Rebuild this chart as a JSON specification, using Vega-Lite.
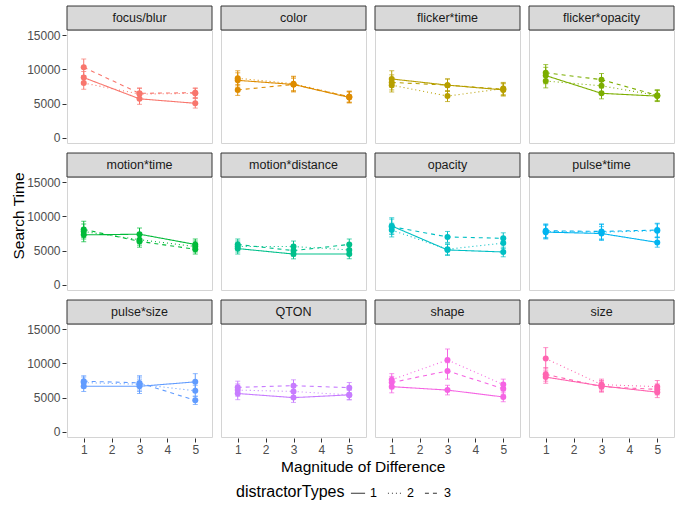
{
  "$schema": "https://vega.github.io/schema/vega-lite/v6.json",
  "padding": {"left": 11, "top": -5, "right": 0, "bottom": 4},
  "title": {"text": "Magnitude of Difference", "orient": "bottom", "anchor": "middle", "dx": 20, "fontSize": 15.5, "fontWeight": "normal", "color": "#000000", "offset": -40},
  "data": {"values": [
    {"panel":"focus/blur","mag":1,"type":"1","time":8800,"lo":7900,"hi":9700},
    {"panel":"focus/blur","mag":1,"type":"2","time":8000,"lo":7100,"hi":8900},
    {"panel":"focus/blur","mag":1,"type":"3","time":10300,"lo":9100,"hi":11500},
    {"panel":"focus/blur","mag":3,"type":"1","time":5700,"lo":4900,"hi":6500},
    {"panel":"focus/blur","mag":3,"type":"2","time":6400,"lo":5600,"hi":7200},
    {"panel":"focus/blur","mag":3,"type":"3","time":6500,"lo":5700,"hi":7300},
    {"panel":"focus/blur","mag":5,"type":"1","time":5050,"lo":4350,"hi":5750},
    {"panel":"focus/blur","mag":5,"type":"2","time":6500,"lo":5800,"hi":7200},
    {"panel":"focus/blur","mag":5,"type":"3","time":6600,"lo":5900,"hi":7300},
    {"panel":"color","mag":1,"type":"1","time":8400,"lo":7300,"hi":9500},
    {"panel":"color","mag":1,"type":"2","time":8700,"lo":7600,"hi":9800},
    {"panel":"color","mag":1,"type":"3","time":7000,"lo":6200,"hi":7800},
    {"panel":"color","mag":3,"type":"1","time":7800,"lo":6700,"hi":8900},
    {"panel":"color","mag":3,"type":"2","time":7900,"lo":6800,"hi":9000},
    {"panel":"color","mag":3,"type":"3","time":7800,"lo":6900,"hi":8700},
    {"panel":"color","mag":5,"type":"1","time":5900,"lo":5100,"hi":6700},
    {"panel":"color","mag":5,"type":"2","time":6000,"lo":5200,"hi":6800},
    {"panel":"color","mag":5,"type":"3","time":6000,"lo":5200,"hi":6800},
    {"panel":"flicker*time","mag":1,"type":"1","time":8600,"lo":7400,"hi":9800},
    {"panel":"flicker*time","mag":1,"type":"2","time":7700,"lo":6700,"hi":8700},
    {"panel":"flicker*time","mag":1,"type":"3","time":8100,"lo":7000,"hi":9200},
    {"panel":"flicker*time","mag":3,"type":"1","time":7700,"lo":6800,"hi":8600},
    {"panel":"flicker*time","mag":3,"type":"2","time":6100,"lo":5300,"hi":6900},
    {"panel":"flicker*time","mag":3,"type":"3","time":7700,"lo":6800,"hi":8600},
    {"panel":"flicker*time","mag":5,"type":"1","time":7000,"lo":6100,"hi":7900},
    {"panel":"flicker*time","mag":5,"type":"2","time":7200,"lo":6300,"hi":8100},
    {"panel":"flicker*time","mag":5,"type":"3","time":7100,"lo":6200,"hi":8000},
    {"panel":"flicker*opacity","mag":1,"type":"1","time":9100,"lo":7900,"hi":10300},
    {"panel":"flicker*opacity","mag":1,"type":"2","time":8300,"lo":7300,"hi":9300},
    {"panel":"flicker*opacity","mag":1,"type":"3","time":9500,"lo":8300,"hi":10700},
    {"panel":"flicker*opacity","mag":3,"type":"1","time":6500,"lo":5700,"hi":7300},
    {"panel":"flicker*opacity","mag":3,"type":"2","time":7600,"lo":6700,"hi":8500},
    {"panel":"flicker*opacity","mag":3,"type":"3","time":8500,"lo":7600,"hi":9400},
    {"panel":"flicker*opacity","mag":5,"type":"1","time":6100,"lo":5300,"hi":6900},
    {"panel":"flicker*opacity","mag":5,"type":"2","time":6200,"lo":5400,"hi":7000},
    {"panel":"flicker*opacity","mag":5,"type":"3","time":6200,"lo":5400,"hi":7000},
    {"panel":"motion*time","mag":1,"type":"1","time":7300,"lo":6300,"hi":8300},
    {"panel":"motion*time","mag":1,"type":"2","time":7800,"lo":6700,"hi":8900},
    {"panel":"motion*time","mag":1,"type":"3","time":8100,"lo":6900,"hi":9300},
    {"panel":"motion*time","mag":3,"type":"1","time":7400,"lo":6500,"hi":8300},
    {"panel":"motion*time","mag":3,"type":"2","time":6600,"lo":5800,"hi":7400},
    {"panel":"motion*time","mag":3,"type":"3","time":6350,"lo":5500,"hi":7200},
    {"panel":"motion*time","mag":5,"type":"1","time":5900,"lo":5100,"hi":6700},
    {"panel":"motion*time","mag":5,"type":"2","time":5600,"lo":4800,"hi":6400},
    {"panel":"motion*time","mag":5,"type":"3","time":5200,"lo":4500,"hi":5900},
    {"panel":"motion*distance","mag":1,"type":"1","time":5300,"lo":4500,"hi":6100},
    {"panel":"motion*distance","mag":1,"type":"2","time":5600,"lo":4800,"hi":6400},
    {"panel":"motion*distance","mag":1,"type":"3","time":5900,"lo":5100,"hi":6700},
    {"panel":"motion*distance","mag":3,"type":"1","time":4500,"lo":3800,"hi":5200},
    {"panel":"motion*distance","mag":3,"type":"2","time":5600,"lo":4800,"hi":6400},
    {"panel":"motion*distance","mag":3,"type":"3","time":5000,"lo":4200,"hi":5800},
    {"panel":"motion*distance","mag":5,"type":"1","time":4500,"lo":3800,"hi":5200},
    {"panel":"motion*distance","mag":5,"type":"2","time":5100,"lo":4400,"hi":5800},
    {"panel":"motion*distance","mag":5,"type":"3","time":5900,"lo":5100,"hi":6700},
    {"panel":"opacity","mag":1,"type":"1","time":8600,"lo":7400,"hi":9800},
    {"panel":"opacity","mag":1,"type":"2","time":8000,"lo":7000,"hi":9000},
    {"panel":"opacity","mag":1,"type":"3","time":8500,"lo":7400,"hi":9600},
    {"panel":"opacity","mag":3,"type":"1","time":5100,"lo":4300,"hi":5900},
    {"panel":"opacity","mag":3,"type":"2","time":5200,"lo":4400,"hi":6000},
    {"panel":"opacity","mag":3,"type":"3","time":7000,"lo":6200,"hi":7800},
    {"panel":"opacity","mag":5,"type":"1","time":4800,"lo":4100,"hi":5500},
    {"panel":"opacity","mag":5,"type":"2","time":6100,"lo":5300,"hi":6900},
    {"panel":"opacity","mag":5,"type":"3","time":6800,"lo":6000,"hi":7600},
    {"panel":"pulse*time","mag":1,"type":"1","time":7700,"lo":6700,"hi":8700},
    {"panel":"pulse*time","mag":1,"type":"2","time":7800,"lo":6800,"hi":8800},
    {"panel":"pulse*time","mag":1,"type":"3","time":7900,"lo":6900,"hi":8900},
    {"panel":"pulse*time","mag":3,"type":"1","time":7500,"lo":6500,"hi":8500},
    {"panel":"pulse*time","mag":3,"type":"2","time":7700,"lo":6600,"hi":8800},
    {"panel":"pulse*time","mag":3,"type":"3","time":7800,"lo":6700,"hi":8900},
    {"panel":"pulse*time","mag":5,"type":"1","time":6200,"lo":5500,"hi":6900},
    {"panel":"pulse*time","mag":5,"type":"2","time":7900,"lo":6900,"hi":8900},
    {"panel":"pulse*time","mag":5,"type":"3","time":8000,"lo":7000,"hi":9000},
    {"panel":"pulse*size","mag":1,"type":"1","time":6650,"lo":5900,"hi":7400},
    {"panel":"pulse*size","mag":1,"type":"2","time":7200,"lo":6400,"hi":8000},
    {"panel":"pulse*size","mag":1,"type":"3","time":7400,"lo":6600,"hi":8200},
    {"panel":"pulse*size","mag":3,"type":"1","time":6650,"lo":5600,"hi":7700},
    {"panel":"pulse*size","mag":3,"type":"2","time":6950,"lo":5900,"hi":8000},
    {"panel":"pulse*size","mag":3,"type":"3","time":7150,"lo":6100,"hi":8200},
    {"panel":"pulse*size","mag":5,"type":"1","time":7300,"lo":6100,"hi":8500},
    {"panel":"pulse*size","mag":5,"type":"2","time":6000,"lo":5200,"hi":6800},
    {"panel":"pulse*size","mag":5,"type":"3","time":4600,"lo":4000,"hi":5200},
    {"panel":"QTON","mag":1,"type":"1","time":5600,"lo":4700,"hi":6500},
    {"panel":"QTON","mag":1,"type":"2","time":6100,"lo":5200,"hi":7000},
    {"panel":"QTON","mag":1,"type":"3","time":6500,"lo":5600,"hi":7400},
    {"panel":"QTON","mag":3,"type":"1","time":5000,"lo":4300,"hi":5700},
    {"panel":"QTON","mag":3,"type":"2","time":5900,"lo":5100,"hi":6700},
    {"panel":"QTON","mag":3,"type":"3","time":6750,"lo":5900,"hi":7600},
    {"panel":"QTON","mag":5,"type":"1","time":5400,"lo":4700,"hi":6100},
    {"panel":"QTON","mag":5,"type":"2","time":5400,"lo":4700,"hi":6100},
    {"panel":"QTON","mag":5,"type":"3","time":6450,"lo":5700,"hi":7200},
    {"panel":"shape","mag":1,"type":"1","time":6600,"lo":5700,"hi":7500},
    {"panel":"shape","mag":1,"type":"2","time":7600,"lo":6700,"hi":8500},
    {"panel":"shape","mag":1,"type":"3","time":7200,"lo":6300,"hi":8100},
    {"panel":"shape","mag":3,"type":"1","time":6100,"lo":5400,"hi":6800},
    {"panel":"shape","mag":3,"type":"2","time":10500,"lo":8900,"hi":12100},
    {"panel":"shape","mag":3,"type":"3","time":8900,"lo":7700,"hi":10100},
    {"panel":"shape","mag":5,"type":"1","time":5100,"lo":4400,"hi":5800},
    {"panel":"shape","mag":5,"type":"2","time":6900,"lo":6100,"hi":7700},
    {"panel":"shape","mag":5,"type":"3","time":6300,"lo":5500,"hi":7100},
    {"panel":"size","mag":1,"type":"1","time":8000,"lo":7100,"hi":8900},
    {"panel":"size","mag":1,"type":"2","time":10700,"lo":9200,"hi":12300},
    {"panel":"size","mag":1,"type":"3","time":8400,"lo":7400,"hi":9400},
    {"panel":"size","mag":3,"type":"1","time":6700,"lo":5900,"hi":7500},
    {"panel":"size","mag":3,"type":"2","time":6900,"lo":6100,"hi":7700},
    {"panel":"size","mag":3,"type":"3","time":6600,"lo":5800,"hi":7400},
    {"panel":"size","mag":5,"type":"1","time":5800,"lo":5000,"hi":6600},
    {"panel":"size","mag":5,"type":"2","time":6600,"lo":5700,"hi":7500},
    {"panel":"size","mag":5,"type":"3","time":6200,"lo":5400,"hi":7000}
  ]},
  "facet": {
    "field": "panel", "type": "nominal",
    "sort": ["focus/blur","color","flicker*time","flicker*opacity","motion*time","motion*distance","opacity","pulse*time","pulse*size","QTON","shape","size"],
    "header": {"title": "Search Time", "titleOrient": "left", "titleAngle": -90, "titleAnchor": "middle", "titleBaseline": "bottom", "titleFontSize": 15.5, "titleFontWeight": "normal", "titleColor": "#000000", "titlePadding": -16, "labelExpr": "''", "labelPadding": 0}
  },
  "columns": 4,
  "spacing": {"row": -2, "column": 7},
  "spec": {
    "width": 145,
    "height": 113,
    "layer": [
      {
        "mark": {"type": "rect", "fill": "#D9D9D9", "stroke": "#333333", "strokeWidth": 1, "clip": false},
        "transform": [{"filter": "datum.type == '1' && datum.mag == 1"}],
        "encoding": {
          "x": {"datum": 0.4, "type": "quantitative", "title": null, "scale": {"domain": [0.4, 5.6], "nice": false, "zero": false}, "axis": {"values": [1,2,3,4,5]}},
          "x2": {"datum": 5.6},
          "y": {"datum": 15750, "type": "quantitative", "title": null, "scale": {"domain": [-750, 15750], "nice": false, "zero": false},
                "axis": {"values": [0,2500,5000,7500,10000,12500,15000], "format": "d", "labelExpr": "datum.value % 5000 === 0 ? datum.label : ''", "tickColor": {"condition": {"test": "datum.value % 5000 === 0", "value": "#333333"}, "value": "transparent"}}},
          "y2": {"datum": 19250}
        }
      },
      {
        "mark": {"type": "text", "fontSize": 12.5, "color": "#1A1A1A", "baseline": "middle", "clip": false},
        "transform": [{"filter": "datum.type == '1' && datum.mag == 1"}],
        "encoding": {
          "x": {"datum": 3, "type": "quantitative", "title": null, "axis": {"values": [1,2,3,4,5]}},
          "y": {"datum": 17500, "type": "quantitative", "title": null,
                "axis": {"values": [0,2500,5000,7500,10000,12500,15000], "format": "d", "labelExpr": "datum.value % 5000 === 0 ? datum.label : ''", "tickColor": {"condition": {"test": "datum.value % 5000 === 0", "value": "#333333"}, "value": "transparent"}}},
          "text": {"field": "panel"}
        }
      },
      {
        "mark": {"type": "errorbar", "ticks": {"size": 5}, "thickness": 1},
        "encoding": {
          "x": {"field": "mag", "type": "quantitative", "title": null, "axis": {"values": [1,2,3,4,5]}},
          "y": {"field": "lo", "type": "quantitative", "title": null,
                "axis": {"values": [0,2500,5000,7500,10000,12500,15000], "format": "d", "labelExpr": "datum.value % 5000 === 0 ? datum.label : ''", "tickColor": {"condition": {"test": "datum.value % 5000 === 0", "value": "#333333"}, "value": "transparent"}}},
          "y2": {"field": "hi"},
          "detail": {"field": "type"},
          "color": {"field": "panel", "type": "nominal", "legend": null}
        }
      },
      {
        "mark": {"type": "line", "strokeWidth": 1.1},
        "encoding": {
          "x": {"field": "mag", "type": "quantitative", "title": null, "axis": {"values": [1,2,3,4,5]}},
          "y": {"field": "time", "type": "quantitative", "title": null,
                "axis": {"values": [0,2500,5000,7500,10000,12500,15000], "format": "d", "labelExpr": "datum.value % 5000 === 0 ? datum.label : ''", "tickColor": {"condition": {"test": "datum.value % 5000 === 0", "value": "#333333"}, "value": "transparent"}}},
          "color": {"field": "panel", "type": "nominal", "legend": null,
            "scale": {"domain": ["focus/blur","color","flicker*time","flicker*opacity","motion*time","motion*distance","opacity","pulse*time","pulse*size","QTON","shape","size"],
                      "range": ["#F8766D","#DE8C00","#B79F00","#7CAE00","#00BA38","#00C08B","#00BFC4","#00B4F0","#619CFF","#C77CFF","#F564E3","#FF64B0"]}},
          "strokeDash": {"field": "type", "type": "nominal", "title": "distractorTypes",
            "scale": {"domain": ["1","2","3"], "range": [[1,0],[1,3],[4,4]]}}
        }
      },
      {
        "mark": {"type": "point", "filled": true, "size": 36, "opacity": 1},
        "encoding": {
          "x": {"field": "mag", "type": "quantitative", "title": null, "axis": {"values": [1,2,3,4,5]}},
          "y": {"field": "time", "type": "quantitative", "title": null,
                "axis": {"values": [0,2500,5000,7500,10000,12500,15000], "format": "d", "labelExpr": "datum.value % 5000 === 0 ? datum.label : ''", "tickColor": {"condition": {"test": "datum.value % 5000 === 0", "value": "#333333"}, "value": "transparent"}}},
          "color": {"field": "panel", "type": "nominal", "legend": null}
        }
      }
    ]
  },
  "config": {
    "font": "Liberation Sans",
    "view": {"stroke": "#D4D4D4", "strokeWidth": 1},
    "axis": {
      "gridColor": "#EBEBEB", "gridWidth": 1, "domain": false,
      "tickColor": "#333333", "tickSize": 4, "tickWidth": 1,
      "labelColor": "#4D4D4D", "labelFontSize": 12, "labelPadding": 2
    },
    "legend": {
      "orient": "bottom", "direction": "horizontal", "titleOrient": "left",
      "titleFontSize": 16, "titleFontWeight": "normal", "titleColor": "#000000",
      "labelFontSize": 12.5, "labelColor": "#000000",
      "symbolType": "stroke", "symbolStrokeColor": "#333333", "symbolStrokeWidth": 1.2, "symbolSize": 200,
      "columnPadding": 8, "offset": 30,
      "layout": {"bottom": {"anchor": "middle"}}
    }
  }
}
